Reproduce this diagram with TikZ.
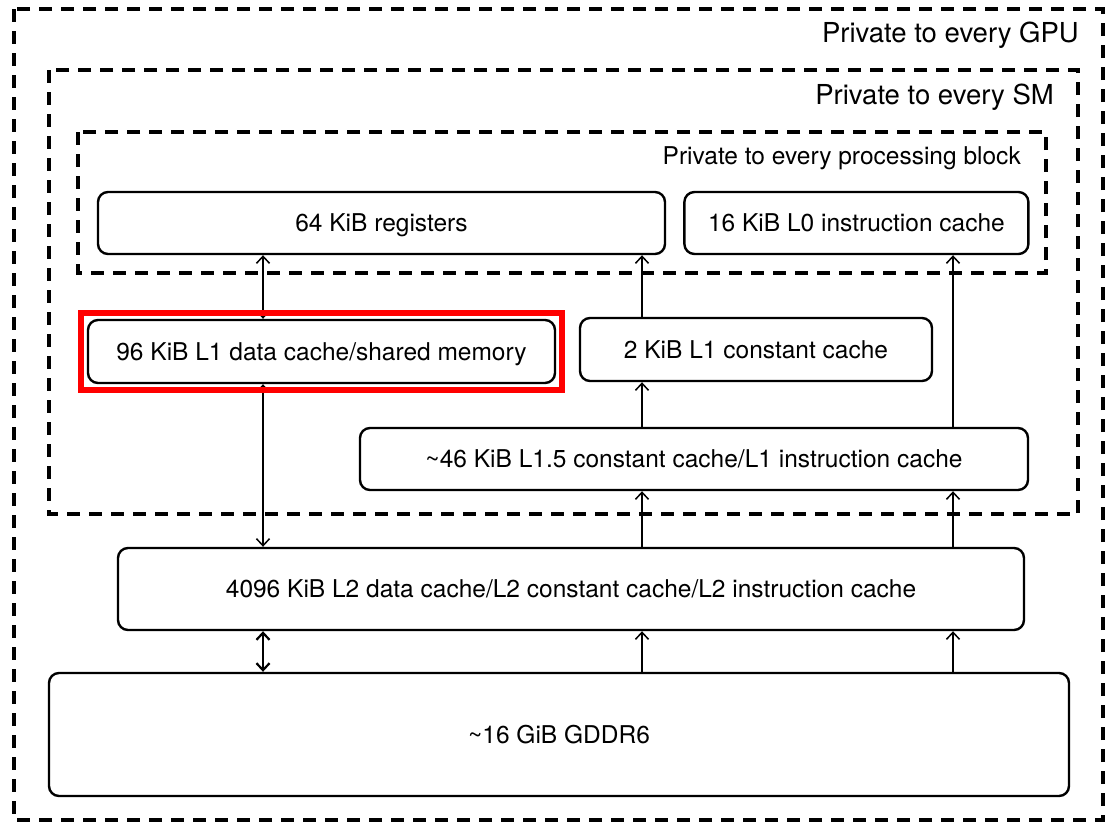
\documentclass[tikz,border=0pt]{standalone}
\usepackage{fontspec}
\setmainfont{TeX Gyre Heros}
\usepackage{tikz}
\usetikzlibrary{positioning}
\usetikzlibrary{calc}
\usetikzlibrary{fit}
\usetikzlibrary{arrows.meta}

\tikzset{
    cachebox/.style={draw, rounded corners=10pt, line width=2.4pt, inner sep=0pt, text depth=0pt, align=center, font=\fontsize{24.5}{29}\selectfont},
    region/.style={draw, dash pattern=on 13pt off 9pt, line width=3.2pt},
    regionlabel/.style={anchor=east, inner sep=0pt, text depth=0pt, font=\fontsize{27.5}{32}\selectfont},
    blocklabel/.style={anchor=east, inner sep=0pt, text depth=0pt, font=\fontsize{24.5}{29}\selectfont},
    link/.style={line width=1.5pt},
    highlight/.style={draw=red, line width=6pt, inner xsep=6pt, inner ysep=5.5pt},
}

\begin{document}
\begin{tikzpicture}[x=1pt, y=-1pt, >={Straight Barb[length=7pt, width=13pt]}]
    \useasboundingbox (0,0) rectangle (1111,822);

    % scopes of privacy
    \draw[region] (14,9) rectangle (1103,820);
    \draw[region] (49,70) rectangle (1078,514);
    \draw[region] (78,132) rectangle (1046,273);

    \node[regionlabel] (gpulabel) at (1079,32) {Private to every GPU};
    \node[regionlabel] (smlabel) at (1054,94) {Private to every SM};
    \node[blocklabel] (pblabel) at (1021,156) {Private to every processing block};

    % memories
    \node[cachebox, minimum width=567pt, minimum height=62pt] (regs) at (381.5,223) {64 KiB registers};
    \node[cachebox, minimum width=344pt, minimum height=62pt, right=17pt of regs] (lzero) {16 KiB L0 instruction cache};
    \node[cachebox, minimum width=467pt, minimum height=63pt] (lonedata) at (321.5,351.5) {96 KiB L1 data cache/shared memory};
    \node[cachebox, minimum width=352pt, minimum height=63pt] (loneconst) at (756,349.5) {2 KiB L1 constant cache};
    \node[cachebox, minimum width=668pt, minimum height=62pt] (lonefive) at (694,459) {\textasciitilde46 KiB L1.5 constant cache/L1 instruction cache};
    \node[cachebox, minimum width=906pt, minimum height=82pt] (ltwo) at (571,589) {4096 KiB L2 data cache/L2 constant cache/L2 instruction cache};
    \node[cachebox, minimum width=1020pt, minimum height=123pt] (gddr) at (559,734.5) {\textasciitilde16 GiB GDDR6};

    \coordinate (colA) at (263,0);
    \coordinate (colB) at (642,0);
    \coordinate (colC) at (953,0);

    % data paths
    \draw[link, <->] (regs.south -| colA) -- (lonedata.north -| colA);
    \draw[link, <->] (lonedata.south -| colA) -- (ltwo.north -| colA);
    \draw[link, <->, line width=2.2pt] (ltwo.south -| colA) -- (gddr.north -| colA);
    \draw[link, ->] (gddr.north -| colB) -- (ltwo.south -| colB);
    \draw[link, ->] (gddr.north -| colC) -- (ltwo.south -| colC);
    \draw[link, ->] (ltwo.north -| colB) -- (lonefive.south -| colB);
    \draw[link, ->] (ltwo.north -| colC) -- (lonefive.south -| colC);
    \draw[link, ->] (lonefive.north -| colB) -- (loneconst.south -| colB);
    \draw[link, ->] (lonefive.north -| colC) -- (lzero.south -| colC);
    \draw[link, ->] (loneconst.north -| colB) -- (regs.south -| colB);

    \node[highlight, fit=(lonedata)] (focus) {};
\end{tikzpicture}
\end{document}
